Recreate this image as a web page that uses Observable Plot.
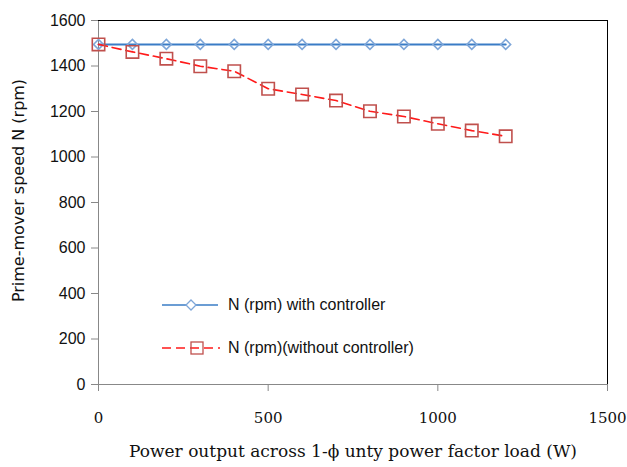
<!DOCTYPE html>
<html><head><meta charset="utf-8">
<script src="https://cdn.jsdelivr.net/npm/d3@7"></script>
<script src="https://cdn.jsdelivr.net/npm/@observablehq/plot@0.6"></script>
<style>
body{margin:0;background:#fff;}
#wrap{position:relative;width:627px;height:467px;}
#legend{position:absolute;left:160px;top:283px;font-family:"Liberation Sans",sans-serif;font-size:16px;color:#111;}
#legend div{display:flex;align-items:center;height:43px;}
#legend svg{margin-right:8px;}
</style></head>
<body><div id="wrap"><div id="chart"></div><div id="legend"></div></div>
<script>
const power = [0,100,200,300,400,500,600,700,800,900,1000,1100,1200];
const nWith = [1495,1495,1495,1495,1495,1495,1495,1495,1495,1495,1495,1495,1495];
const nWithout = [1495,1462,1432,1399,1377,1300,1275,1248,1201,1178,1146,1116,1091];
const xTicks = [0,500,1000,1500];
const yTicks = [0,200,400,600,800,1000,1200,1400,1600];
const seriesNames = ["N (rpm) with controller","N (rpm)(without controller)"];
const xLabel = "Power output across 1-\u03d5 unty power factor load (W)";
const yLabel = "Prime-mover speed N (rpm)";

const withData = power.map((p,i)=>({p, n:nWith[i]}));
const withoutData = power.map((p,i)=>({p, n:nWithout[i]}));

const blueLine="#3a7cc6", blueMark="#7ea6d8", redLine="#ff1a1a", redMark="#c0504d";

const chart = Plot.plot({
  width:627, height:467,
  marginLeft:98, marginRight:20, marginTop:20, marginBottom:83,
  x:{domain:[0,1500]}, y:{domain:[0,1600]},
  marks:[
    Plot.ruleY([0],{stroke:"#888"}),
    Plot.ruleX([0],{stroke:"#888"}),
    Plot.ruleY([1600],{stroke:"#000"}),
    Plot.ruleX([1500],{stroke:"#000"}),
    Plot.axisY({ticks:yTicks, tickFormat:d=>String(d), tickSize:7, tickPadding:6, stroke:"#888", fill:"#111",
      fontFamily:"Liberation Sans", fontSize:16, label:null}),
    Plot.axisX({ticks:xTicks, tickFormat:d=>String(d), tickSize:7, tickPadding:21, stroke:"#888", fill:"#111",
      fontFamily:"DejaVu Serif", fontSize:15, label:null}),
    Plot.text([xLabel],{frameAnchor:"bottom", dy:72, fontFamily:"DejaVu Serif", fontSize:17, fill:"#111"}),
    Plot.text([yLabel],{frameAnchor:"left", dx:-80, dy:-12, rotate:-90, textAnchor:"middle", fontFamily:"DejaVu Sans", fontSize:16, fill:"#111"}),
    Plot.line(withData,{x:"p", y:"n", stroke:blueLine, strokeWidth:2}),
    Plot.dot(withData,{x:"p", y:"n", symbol:"diamond2", r:4.5, stroke:blueMark, strokeWidth:1.5, fill:"none"}),
    Plot.line(withoutData,{x:"p", y:"n", stroke:redLine, strokeWidth:1.6, strokeDasharray:"9,5"}),
    Plot.dot(withoutData,{x:"p", y:"n", symbol:"square", r:7, stroke:redMark, strokeWidth:1.6, fill:"none"})
  ]
});
document.getElementById("chart").appendChild(chart);

const legend = document.getElementById("legend");
legend.innerHTML =
  `<div><svg width="60" height="14"><line x1="2" x2="58" y1="7" y2="7" stroke="${blueLine}" stroke-width="1.5"/><path d="M31,2 L36,7 L31,12 L26,7 Z" fill="white" stroke="${blueMark}" stroke-width="1.3"/></svg><span>${seriesNames[0]}</span></div>` +
  `<div><svg width="60" height="16"><line x1="2" x2="60" y1="8" y2="8" stroke="${redLine}" stroke-width="1.5" stroke-dasharray="9,5"/><rect x="31" y="2" width="12" height="12" fill="none" stroke="${redMark}" stroke-width="1.3"/></svg><span>${seriesNames[1]}</span></div>`;
</script></body></html>
